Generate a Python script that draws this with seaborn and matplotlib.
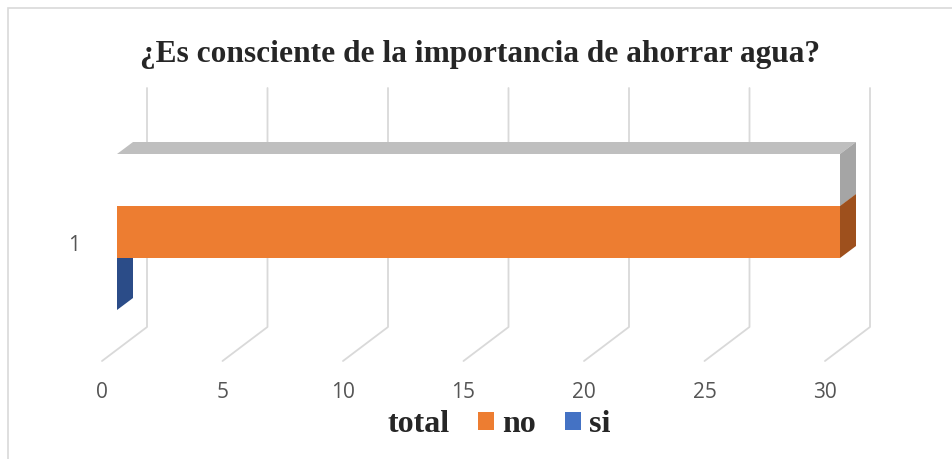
import pandas as pd
import matplotlib.pyplot as plt
import seaborn as sns
from matplotlib.patches import Polygon, Patch, Rectangle

# Datos
categorias = ["1"]
series = ["total", "no", "si"]
valores = [30, 30, 0]
ticks_x = [0, 5, 10, 15, 20, 25, 30]
titulo = "¿Es consciente de la importancia de ahorrar agua?"

colores = {"total": "#FFFFFF", "no": "#ED7D31", "si": "#4472C4"}
colores_lado = {"total": "#A5A5A5", "no": "#9E501D", "si": "#2B4C88"}
color_tapa = "#BFBFBF"
gris_rejilla = "#D9D9D9"

df = pd.DataFrame({
    "pregunta": categorias * len(series),
    "serie": series,
    "valor": valores,
})

sns.set_style("white")
plt.rcParams["font.family"] = ["Liberation Serif", "DejaVu Serif"]

W, H = 952, 459
fig = plt.figure(figsize=(W / 100, H / 100), dpi=100)
ax = fig.add_axes([117 / W, 98 / H, 723 / W, 273 / H])

sns.barplot(data=df, x="valor", y="pregunta", hue="serie", hue_order=series,
            palette=colores, orient="h", width=0.8, saturation=1, linewidth=0,
            errorbar=None, legend=False, ax=ax, zorder=3)

ymin, ymax = 0.6615, -0.7385
ax.set_xlim(0, 30)
ax.set_ylim(ymin, ymax)
px_x = 723 / 30
px_y = 273 / (ymin - ymax)

# caras 3D de las barras (profundidad 16 px a la derecha, 12 px hacia arriba)
dx = 16 / px_x
dy = -12 / px_y
for serie, cont in zip(series, ax.containers):
    for bar in cont:
        x0, y0 = bar.get_x(), bar.get_y()
        w, h = bar.get_width(), bar.get_height()
        tapa = Polygon([(x0, y0), (x0 + w, y0), (x0 + w + dx, y0 + dy), (x0 + dx, y0 + dy)],
                       closed=True, facecolor=color_tapa, edgecolor="none", zorder=1, clip_on=False)
        lado = Polygon([(x0 + w, y0), (x0 + w + dx, y0 + dy), (x0 + w + dx, y0 + h + dy), (x0 + w, y0 + h)],
                       closed=True, facecolor=colores_lado[serie], edgecolor="none", zorder=2, clip_on=False)
        ax.add_patch(tapa)
        ax.add_patch(lado)

# rejilla: pared del fondo y suelo en perspectiva
trans = ax.get_xaxis_transform()
fondo = 30 / px_x
frente = 15 / px_x
suelo = 34 / 273
for v in ticks_x:
    ax.plot([v - frente, v + fondo, v + fondo], [0, suelo, 1], transform=trans,
            color=gris_rejilla, lw=1.3, zorder=0, clip_on=False)
    ax.text(v - frente, -32 / 273, str(v), transform=trans, ha="center", va="center",
            fontsize=15, color="#555555", family="Open Sans")

ax.text(-37 / px_x, 13 / px_y, categorias[0], ha="right", va="center",
        fontsize=15, color="#555555", family="Open Sans")

ax.set_xticks([])
ax.set_yticks([])
ax.set_xlabel("")
ax.set_ylabel("")
sns.despine(ax=ax, left=True, bottom=True)

# titulo
fig.text(480 / W, 1 - 62 / H, titulo, ha="center", va="baseline",
         fontsize=22.6, fontweight="bold")

# leyenda
handles = [Patch(facecolor=colores[s], edgecolor="none", label=s) for s in series]
fig.legend(handles=handles, loc="center", bbox_to_anchor=(487 / W, 1 - 425 / H), ncol=3,
           frameon=False, prop={"weight": "bold", "size": 23}, handlelength=0.5,
           handleheight=0.5, handletextpad=0.25, columnspacing=0.9)

# borde del area del grafico
fig.patches.append(Rectangle((8 / W, -0.1), 1.2, 1 - 8 / H + 0.1, transform=fig.transFigure,
                             fill=False, edgecolor=gris_rejilla, lw=1.2))

fig.savefig("out.png", dpi=100)
